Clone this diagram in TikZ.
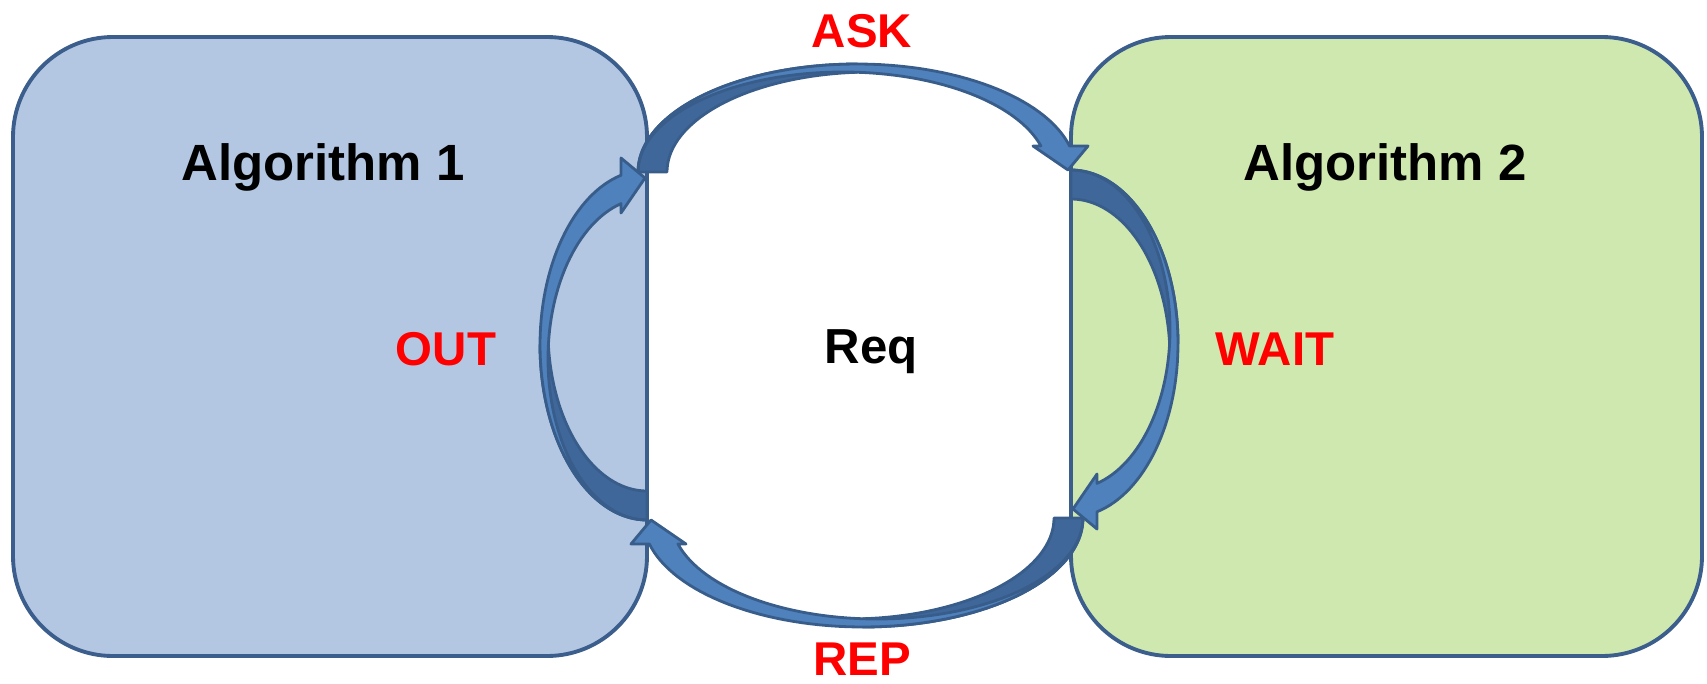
\documentclass[tikz,border=0pt]{standalone}
\usepackage{fontspec}
\setmainfont{Liberation Sans}
\definecolor{boxline}{HTML}{3B5E8C}
\definecolor{leftfill}{HTML}{B3C7E2}
\definecolor{rightfill}{HTML}{CFE8B0}
\definecolor{arrowfront}{HTML}{4F81BD}
\definecolor{arrowback}{HTML}{40679A}
\definecolor{arrowline}{HTML}{385D8A}
\definecolor{labelred}{HTML}{FF0000}

\tikzset{
  algbox/.style={draw=boxline, line width=2.2pt, rounded corners=2cm},
  backface/.style={fill=arrowback, draw=arrowline, line width=1.6pt, line join=round},
  frontface/.style={fill=arrowfront, draw=arrowline, line width=1.6pt, line join=round},
  title/.style={font=\bfseries\fontsize{29}{30}\selectfont, anchor=base, inner sep=0pt},
  centre/.style={font=\bfseries\fontsize{28}{30}\selectfont, anchor=base, inner sep=0pt},
  msg/.style={font=\bfseries\fontsize{27}{30}\selectfont, text=labelred, anchor=base, inner sep=0pt}
}

% A curved ribbon arrow in a local frame: it starts at the origin, travels
% along +x over a half ellipse of radii #1 and #2 bulging towards +y, and
% ends with its head on the chord.
\newcommand\ribbonarrow[2]{%
  \pgfmathsetmacro\ra{#1}%
  \pgfmathsetmacro\rb{#2}%
  \pgfmathsetmacro\thd{acos(-14/(\ra-15))}%
  \pgfmathsetmacro\tho{asin(26/\rb)}%
  \pgfmathsetmacro\thf{asin(26/(\rb-8))}%
  % back side of the ribbon
  \path[backface]
    plot[domain=180:90, samples=40, variable=\t] ({\ra+\ra*cos(\t)}, {\rb*sin(\t)})
    -- plot[domain=\thd:180, samples=40, variable=\t] ({\ra+14+(\ra-15)*cos(\t)}, {(\rb-8)*sin(\t)})
    -- cycle;
  % front side of the ribbon with its head
  \path[frontface]
    plot[domain=180:\tho, samples=70, variable=\t] ({\ra+\ra*cos(\t)}, {\rb*sin(\t)})
    -- ({2*\ra+12}, 26) -- ({2*\ra-8}, 2) -- ({2*\ra-43}, 26)
    -- plot[domain=\thf:180, samples=70, variable=\t] ({\ra-14+(\ra-14)*cos(\t)}, {(\rb-8)*sin(\t)})
    -- cycle;
}

\begin{document}
\begin{tikzpicture}[x={(0.02cm,0)}, y={(0,-0.02cm)}]
  \useasboundingbox (0,0) rectangle (1707,683);

  % the two algorithm panels
  \draw[algbox, fill=leftfill]  (13,37) rectangle (647,656);
  \draw[algbox, fill=rightfill] (1071,37) rectangle (1702,656);

  % message arrows
  \begin{scope}[shift={(638,172)}, x={(0.02cm,0)}, y={(0,0.02cm)}]
    \ribbonarrow{219}{108}
  \end{scope}
  \begin{scope}[shift={(1083,518)}, x={(-0.02cm,0)}, y={(0,-0.02cm)}]
    \ribbonarrow{220}{109}
  \end{scope}
  \begin{scope}[shift={(1071,170)}, x={(0,-0.02cm)}, y={(0.02cm,0)}]
    \ribbonarrow{173.5}{107}
  \end{scope}
  \begin{scope}[shift={(647,520)}, x={(0,0.02cm)}, y={(-0.02cm,0)}]
    \ribbonarrow{175}{107}
  \end{scope}

  % texts
  \node[title]  (alg1) at (323,180)  {Algorithm 1};
  \node[title]  (alg2) at (1385,180) {Algorithm 2};
  \node[centre] (req)  at (871,363)  {Req};
  \node[msg]    (ask)  at (862,47)   {ASK};
  \node[msg]    (rep)  at (862,675)  {REP};
  \node[msg]    (out)  at (446,365)  {OUT};
  \node[msg]    (wait) at (1275,365) {WAIT};
\end{tikzpicture}
\end{document}
